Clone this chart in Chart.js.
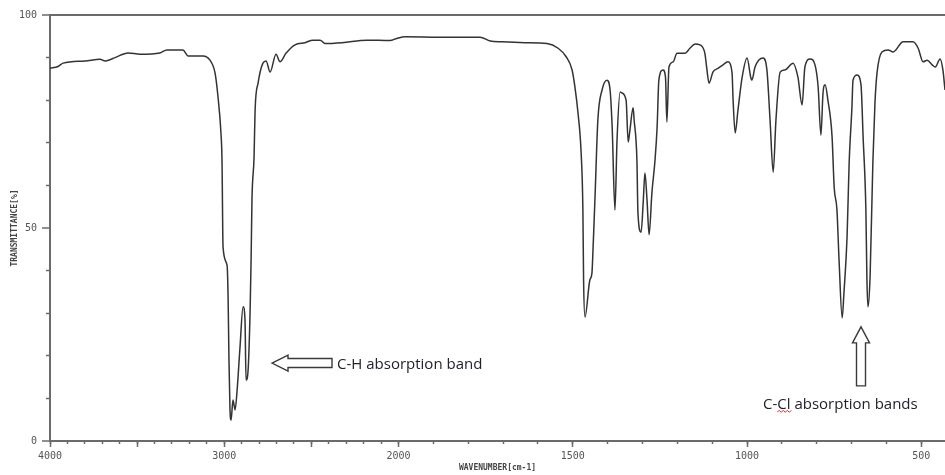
<!DOCTYPE html>
<html>
<head>
<meta charset="utf-8">
<script src="https://cdn.jsdelivr.net/npm/chart.js@4.4.0/dist/chart.umd.min.js"></script>
<style>
  html, body { margin: 0; padding: 0; background: #fff; }
  #wrap { width: 945px; height: 475px; }
</style>
</head>
<body>
<div id="wrap"><canvas id="irChart" width="945" height="475"></canvas></div>
<script>
// ── Spectrum (wavenumber cm-1 → transmittance %) ──
const wavenumbers = [
  4000,3954,3925,3799,3713,3684,3627,3552,3483,3369,
  3329,3237,3208,3122,3082,3053,3036,3019,3013,3007,
  2984,2978,2973,2967,2961,2950,2938,2927,2910,2892,
  2881,2875,2864,2852,2846,2841,2829,2823,2806,2778,
  2760,2737,2703,2680,2646,2594,2537,2491,2450,2422,
  2324,2181,2049,2010,1981,1881,1766,1737,1703,1637,
  1574,1542,1519,1502,1494,1485,1476,1471,1469,1465,
  1451,1445,1442,1436,1428,1416,1402,1393,1387,1379,
  1373,1364,1359,1347,1341,1336,1327,1324,1316,1313,
  1304,1298,1293,1287,1281,1273,1264,1258,1253,1241,
  1234,1230,1224,1212,1201,1178,1164,1149,1135,1121,
  1115,1109,1098,1083,1069,1055,1043,1040,1034,1026,
  1014,1000,989,986,977,954,943,934,925,917,
  905,891,868,854,842,834,819,805,796,788,
  782,776,768,756,750,742,736,727,722,713,
  707,699,696,684,673,667,659,656,653,647,
  639,633,627,613,595,581,552,524,509,495,
  483,469,460,446,438,432
];
const transmittance = [
  87.5,87.9,88.7,89.2,89.6,89.2,90.0,91.1,90.8,91.1,
  91.8,91.8,90.4,90.4,89.4,86.4,80.8,72.3,66,45.5,
  41.3,33.8,19,7.3,4.9,9.6,7.3,11.5,21.8,31.5,
  28.4,14.3,16.2,30,42.5,56.6,66.7,77.7,84,88.7,
  89.2,86.6,90.8,89,91,93,93.5,94.1,94.1,93.3,
  93.5,94.1,94.0,94.5,94.9,94.8,94.8,93.9,93.7,93.5,
  93.3,92.2,90.2,87.1,83.2,77,67.6,54.2,37.8,29.1,
  37.8,39.4,44.8,57.7,75.4,82.4,84.7,82.4,73.7,54.2,
  70.7,81.9,81.7,80,70.2,73,78.2,75.4,66,53.5,
  49,55.9,62.9,56.6,48.4,58.2,66,73.7,84.7,87.1,
  85.4,74.9,87.8,89,91,91,92.2,93.2,93,91,
  87.1,84,86.6,87.5,88.3,89,86.4,80,72.3,77.7,
  85.4,89.9,85.2,84.7,87.8,89.9,87.1,75.4,63.1,75.4,
  86.6,87.1,88.7,85.4,78.9,87.8,89.7,88.3,83.1,71.8,
  81.7,83.6,80,71.4,59.6,54.2,42.5,28.9,34.7,47.9,
  65.3,78.4,84.7,85.9,83.6,71.4,54.2,37.8,31.5,38.5,
  65.3,79.3,86.4,91.3,91.8,91.3,93.7,93.7,92.2,89,
  89.4,88.3,87.8,89.7,87.1,82.4
];

// ── Axis ticks ──
const xRange = [4000, 432];
const xMajorTicks = [4000, 3500, 3000, 2500, 2000, 1500, 1000, 500];
const xLabelTicks = [4000, 3000, 2000, 1500, 1000, 500];
const xMinorTicks = [];
for (let w = 4000; w >= 500; w -= 100) xMinorTicks.push(w);
const yLabelTicks = [0, 50, 100];
const yMinorTicks = [10, 20, 30, 40, 60, 70, 80, 90];

// ── Annotations (arrow tip in data coords) ──
const notes = [
  { text: 'C-H absorption band', w: 2726, t: 18.3, dir: 'left' },
  { text: 'C-Cl absorption bands', w: 673, t: 26.8, dir: 'up' },
];

// SDBS-style split axis: 4000–2000 at half the scale of 2000–400
function toAxis(w) { return w >= 2000 ? (4000 - w) / 2 : 1000 + (2000 - w); }
function fromAxis(u) { return u <= 1000 ? 4000 - 2 * u : 3000 - u; }

const AXIS = '#6b6b6b';
const TICKFONT = { family: 'DejaVu Sans Mono', size: 10 };

const notesPlugin = {
  id: 'notes',
  afterDatasetsDraw(chart) {
    const { ctx, scales: { x, y } } = chart;
    ctx.save();
    notes.forEach(n => {
      const tx = x.getPixelForValue(toAxis(n.w));
      const ty = y.getPixelForValue(n.t);
      const pts = n.dir === 'left'
        ? [[0,0],[16,-8],[16,-4.5],[60,-4.5],[60,4.5],[16,4.5],[16,8]]
        : [[0,0],[8.5,16],[4.5,16],[4.5,59],[-4.5,59],[-4.5,16],[-8.5,16]];
      ctx.beginPath();
      pts.forEach(([dx, dy], i) => i ? ctx.lineTo(tx + dx, ty + dy) : ctx.moveTo(tx + dx, ty + dy));
      ctx.closePath();
      ctx.fillStyle = '#fff';
      ctx.fill();
      ctx.lineWidth = 1.4;
      ctx.strokeStyle = '#3a3a3a';
      ctx.stroke();

      ctx.font = '15px "Open Sans"';
      ctx.fillStyle = '#22222c';
      ctx.textBaseline = 'alphabetic';
      ctx.textAlign = 'left';
      let lx, ly;
      if (n.dir === 'left') { lx = tx + 65; ly = ty + 6; }
      else { lx = tx - 98; ly = ty + 82; }
      ctx.fillText(n.text, lx, ly);

      // spell-check squiggle under "Cl"
      if (n.dir === 'up') {
        const sx = lx + ctx.measureText('C-').width;
        const ex = lx + ctx.measureText('C-Cl').width + 1;
        ctx.beginPath();
        ctx.strokeStyle = '#e0302a';
        ctx.lineWidth = 1;
        let up = true;
        ctx.moveTo(sx, ly + 3);
        for (let px = sx + 2; px <= ex; px += 2) {
          ctx.lineTo(px, ly + (up ? 1.5 : 3.5));
          up = !up;
        }
        ctx.stroke();
      }
    });
    ctx.restore();
  }
};

new Chart(document.getElementById('irChart'), {
  type: 'line',
  data: {
    datasets: [{
      data: wavenumbers.map((w, i) => ({ x: toAxis(w), y: transmittance[i] })),
      borderColor: '#333',
      borderWidth: 1.5,
      pointRadius: 0,
      cubicInterpolationMode: 'monotone',
      fill: false,
    }],
  },
  options: {
    responsive: false,
    animation: false,
    devicePixelRatio: 1,
    layout: { padding: { top: 15, right: 0, bottom: 0, left: 0 } },
    plugins: { legend: { display: false }, tooltip: { enabled: false } },
    scales: {
      x: {
        type: 'linear', position: 'bottom',
        min: toAxis(xRange[0]), max: toAxis(xRange[1]),
        afterBuildTicks: s => { s.ticks = xMajorTicks.map(w => ({ value: toAxis(w) })); },
        ticks: {
          autoSkip: false, maxRotation: 0, padding: 3, color: '#555', font: TICKFONT,
          callback: v => { const w = Math.round(fromAxis(v)); return xLabelTicks.includes(w) ? String(w) : ''; },
        },
        grid: { drawOnChartArea: false, tickLength: 6, tickColor: AXIS, tickWidth: 1.5 },
        border: { color: AXIS, width: 2 },
        title: {
          display: true, text: 'WAVENUMBER[cm-1]', color: '#444',
          font: { family: 'DejaVu Sans Mono', size: 8, weight: 'bold' },
          padding: { top: 0, bottom: 2 },
        },
        afterFit: s => { s.height = 34; },
      },
      xMinor: {
        type: 'linear', position: { y: 0 },
        min: toAxis(xRange[0]), max: toAxis(xRange[1]),
        afterBuildTicks: s => { s.ticks = xMinorTicks.map(w => ({ value: toAxis(w) })); },
        ticks: { display: false },
        grid: { drawOnChartArea: false, tickLength: 3, tickColor: AXIS, tickWidth: 1.5 },
        border: { display: false },
      },
      y: {
        type: 'linear', position: 'left', min: 0, max: 100,
        afterBuildTicks: s => { s.ticks = yLabelTicks.map(v => ({ value: v })); },
        ticks: { padding: 5, color: '#555', font: TICKFONT },
        grid: {
          tickLength: 8, tickColor: AXIS, tickWidth: 1.5, lineWidth: 2,
          color: c => (c.tick && c.tick.value === 100 ? AXIS : 'rgba(0,0,0,0)'),
        },
        border: { color: AXIS, width: 2 },
        title: {
          display: true, text: 'TRANSMITTANCE[%]', color: '#444',
          font: { family: 'DejaVu Sans Mono', size: 8, weight: 'bold' },
          padding: { top: 10, bottom: 0 },
        },
        afterFit: s => { s.width = 50; },
      },
      yMinor: {
        type: 'linear', position: { x: 0 }, min: 0, max: 100,
        afterBuildTicks: s => { s.ticks = yMinorTicks.map(v => ({ value: v })); },
        ticks: { display: false },
        grid: { drawOnChartArea: false, tickLength: 4, tickColor: AXIS, tickWidth: 1.5 },
        border: { display: false },
      },
    },
  },
  plugins: [notesPlugin],
});
</script>
</body>
</html>
